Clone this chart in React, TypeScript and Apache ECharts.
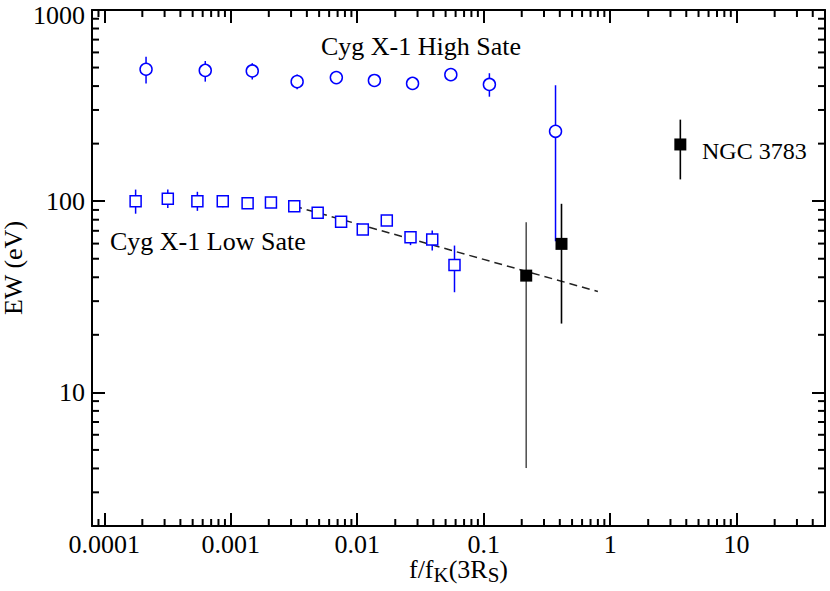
import React, { useEffect, useRef } from "react";
import * as echarts from "echarts";

const FONT = '"Liberation Serif", "Times New Roman", Times, serif';

// Axis ranges and tick labels
const X_MIN = 8e-5;
const X_MAX = 50;
const Y_MIN = 2;
const Y_MAX = 1000;
const xTickLabels = ["0.0001", "0.001", "0.01", "0.1", "1", "10"];
const yTickLabels = ["10", "100", "1000"];

// Cyg X-1 high state (circles)
const highX = [2.14e-4, 6.29e-4, 1.48e-3, 3.35e-3, 6.84e-3, 0.01368, 0.0274, 0.055, 0.111, 0.37];
const highY = [490, 483, 480, 422, 443, 428, 413, 459, 408, 232];
const highLo = [413, 422, 433, 385, 443, 428, 413, 459, 352, 61.7];
const highHi = [570, 541, 527, 460, 443, 428, 413, 459, 467, 404];

// Cyg X-1 low state (squares)
const lowX = [1.77e-4, 3.18e-4, 5.45e-4, 8.65e-4, 1.36e-3, 2.08e-3, 3.18e-3, 4.87e-3, 7.46e-3, 0.01107, 0.01714, 0.0264, 0.0392, 0.0588];
const lowY = [100, 103, 100, 100, 97.6, 98.5, 94, 87, 78, 71.1, 79.2, 64.8, 63, 46.3];
const lowLo = [86, 92, 89, 93, 97.6, 98.5, 94, 87, 78, 71.1, 79.2, 58.9, 55.2, 33.4];
const lowHi = [115, 115, 112, 107.5, 97.6, 98.5, 94, 87, 78, 71.1, 79.2, 69.6, 70.3, 58.6];

// Filled black squares (AGN / NGC 3783)
const agnX = [0.217, 0.4125, 3.59];
const agnY = [40.8, 59.8, 198];
const agnLo = [4.02, 22.9, 130];
const agnHi = [77.6, 96.9, 267];
const agnBarColors = ["#555555", "#000000", "#000000"];

// Dashed power-law fit
const fitX = [0.00317, 0.8];
const fitY = [94.2, 33.7];

const BLUE = "#0000ff";

function makeMinor(minV: number, maxV: number, dLo: number, dHi: number) {
  const out: number[] = [];
  for (let d = dLo; d <= dHi; d++) {
    for (let m = 2; m <= 9; m++) {
      const v = m * Math.pow(10, d);
      if (v > minV * 1.0001 && v < maxV * 0.9999) out.push(v);
    }
  }
  return out;
}
const xMinor = makeMinor(X_MIN, X_MAX, -5, 1);
const yMinor = makeMinor(Y_MIN, Y_MAX, 0, 2);

function findLabel(labels: string[], v: number) {
  return labels.find((s) => Math.abs(Math.log10(parseFloat(s)) - Math.log10(v)) < 1e-6) ?? "";
}

function errorBarSeries(xs: number[], lo: number[], hi: number[], colors: string[] | string, width: number) {
  return {
    type: "custom",
    silent: true,
    xAxisIndex: 0,
    yAxisIndex: 0,
    data: xs.map((x, i) => [x, lo[i], hi[i], i]),
    encode: { x: 0, y: [1, 2] },
    renderItem: (params: any, api: any) => {
      const x = api.value(0);
      const l = api.value(1);
      const h = api.value(2);
      const i = api.value(3);
      if (l === h) return null;
      const p1 = api.coord([x, l]);
      const p2 = api.coord([x, h]);
      const c = Array.isArray(colors) ? colors[i] : colors;
      return {
        type: "line",
        shape: { x1: p1[0], y1: p1[1], x2: p2[0], y2: p2[1] },
        style: { stroke: c, lineWidth: width },
      };
    },
    z: 2,
  };
}

export default function App() {
  const ref = useRef<HTMLDivElement>(null);
  useEffect(() => {
    if (!ref.current) return;
    const chart = echarts.init(ref.current, undefined, { renderer: "svg" });
    const axisLineStyle = { lineStyle: { color: "#000", width: 2 } };
    const majorTick = { show: true, inside: true, length: 13, lineStyle: { color: "#000", width: 2 } };
    const option: any = {
      animation: false,
      backgroundColor: "#fff",
      grid: {
        left: 92,
        top: 10,
        width: 733,
        height: 516,
        containLabel: false,
        outerBoundsMode: "none",
      },
      xAxis: [
        {
          type: "log",
          logBase: 10,
          min: X_MIN,
          max: X_MAX,
          position: "bottom",
          axisLine: axisLineStyle,
          axisTick: majorTick,
          splitLine: { show: false },
          axisLabel: {
            formatter: (v: number) => findLabel(xTickLabels, v),
            fontFamily: FONT,
            fontSize: 26,
            color: "#000",
            margin: 5,
            hideOverlap: false,
          },
          name: "{a|f/f}{s|K}{a|(3R}{s|S}{a|)}",
          nameLocation: "middle",
          nameGap: 30,
          nameMoveOverlap: false,
          nameTextStyle: {
            fontFamily: FONT,
            fontSize: 26,
            color: "#000",
            rich: {
              a: { fontFamily: FONT, fontSize: 26, lineHeight: 26, color: "#000" },
              s: { fontFamily: FONT, fontSize: 21, lineHeight: 21, color: "#000", padding: [11, 0, 0, 0] },
            },
          },
        },
        {
          type: "log",
          logBase: 10,
          min: X_MIN,
          max: X_MAX,
          position: "top",
          axisLine: axisLineStyle,
          axisTick: majorTick,
          splitLine: { show: false },
          axisLabel: { show: false },
        },
      ],
      yAxis: [
        {
          type: "log",
          logBase: 10,
          min: Y_MIN,
          max: Y_MAX,
          position: "left",
          axisLine: axisLineStyle,
          axisTick: majorTick,
          splitLine: { show: false },
          axisLabel: {
            formatter: (v: number) => {
              const l = findLabel(yTickLabels, v);
              if (!l) return "";
              return Math.abs(v - Y_MAX) < 1e-6 ? `{t|${l}}` : l;
            },
            fontFamily: FONT,
            fontSize: 26,
            lineHeight: 20,
            color: "#000",
            margin: 7,
            hideOverlap: false,
            rich: {
              t: { fontFamily: FONT, fontSize: 26, lineHeight: 20, color: "#000", padding: [10, 0, 0, 0] },
            },
          },
          name: "EW (eV)",
          nameLocation: "middle",
          nameGap: 66,
          nameMoveOverlap: false,
          nameTextStyle: { fontFamily: FONT, fontSize: 26, color: "#000" },
        },
        {
          type: "log",
          logBase: 10,
          min: Y_MIN,
          max: Y_MAX,
          position: "right",
          axisLine: axisLineStyle,
          axisTick: majorTick,
          splitLine: { show: false },
          axisLabel: { show: false },
        },
      ],
      series: [
        {
          type: "custom",
          silent: true,
          data: [[X_MIN, Y_MIN]],
          z: 5,
          renderItem: (params: any, api: any) => {
            const cs = params.coordSys;
            const left = cs.x;
            const top = cs.y;
            const right = cs.x + cs.width;
            const bottom = cs.y + cs.height;
            const L = 7;
            const children: any[] = [];
            const st = { stroke: "#000", lineWidth: 2 };
            xMinor.forEach((v) => {
              const px = api.coord([v, Y_MIN])[0];
              children.push({ type: "line", shape: { x1: px, y1: bottom, x2: px, y2: bottom - L }, style: st });
              children.push({ type: "line", shape: { x1: px, y1: top, x2: px, y2: top + L }, style: st });
            });
            yMinor.forEach((v) => {
              const py = api.coord([X_MIN, v])[1];
              children.push({ type: "line", shape: { x1: left, y1: py, x2: left + L, y2: py }, style: st });
              children.push({ type: "line", shape: { x1: right, y1: py, x2: right - L, y2: py }, style: st });
            });
            return { type: "group", children };
          },
        },
        {
          type: "line",
          data: fitX.map((x, i) => [x, fitY[i]]),
          showSymbol: false,
          silent: true,
          lineStyle: { color: "#222", width: 1.5, type: [8, 5] },
          z: 1,
        },
        errorBarSeries(highX, highLo, highHi, BLUE, 1.5),
        errorBarSeries(lowX, lowLo, lowHi, BLUE, 1.5),
        errorBarSeries(agnX, agnLo, agnHi, agnBarColors, 1.6),
        {
          type: "scatter",
          data: highX.map((x, i) => [x, highY[i]]),
          symbol: "circle",
          symbolSize: 12,
          itemStyle: { color: "#fff", borderColor: BLUE, borderWidth: 1.5, opacity: 1 },
          silent: true,
          z: 3,
        },
        {
          type: "scatter",
          data: lowX.map((x, i) => [x, lowY[i]]),
          symbol: "rect",
          symbolSize: 11,
          itemStyle: { color: "#fff", borderColor: BLUE, borderWidth: 1.5, opacity: 1 },
          silent: true,
          z: 3,
        },
        {
          type: "scatter",
          data: agnX.map((x, i) => [x, agnY[i]]),
          symbol: "rect",
          symbolSize: 12,
          itemStyle: { color: "#000", opacity: 1 },
          silent: true,
          z: 4,
        },
      ],
      graphic: [
        {
          type: "text",
          x: 421,
          y: 46,
          style: {
            text: "Cyg X-1 High Sate",
            font: `26px ${FONT}`,
            fill: "#000",
            align: "center",
            verticalAlign: "middle",
            textAlign: "center",
            textVerticalAlign: "middle",
          },
        },
        {
          type: "text",
          x: 110,
          y: 241,
          style: {
            text: "Cyg X-1 Low Sate",
            font: `26px ${FONT}`,
            fill: "#000",
            align: "left",
            verticalAlign: "middle",
            textAlign: "left",
            textVerticalAlign: "middle",
          },
        },
        {
          type: "text",
          x: 702,
          y: 151,
          style: {
            text: "NGC 3783",
            font: `24px ${FONT}`,
            fill: "#000",
            align: "left",
            verticalAlign: "middle",
            textAlign: "left",
            textVerticalAlign: "middle",
          },
        },
      ],
    };
    chart.setOption(option);
    return () => chart.dispose();
  }, []);
  return (
    <div
      ref={ref}
      style={{ position: "fixed", left: 0, top: 0, width: 830, height: 591, background: "#fff" }}
    />
  );
}
